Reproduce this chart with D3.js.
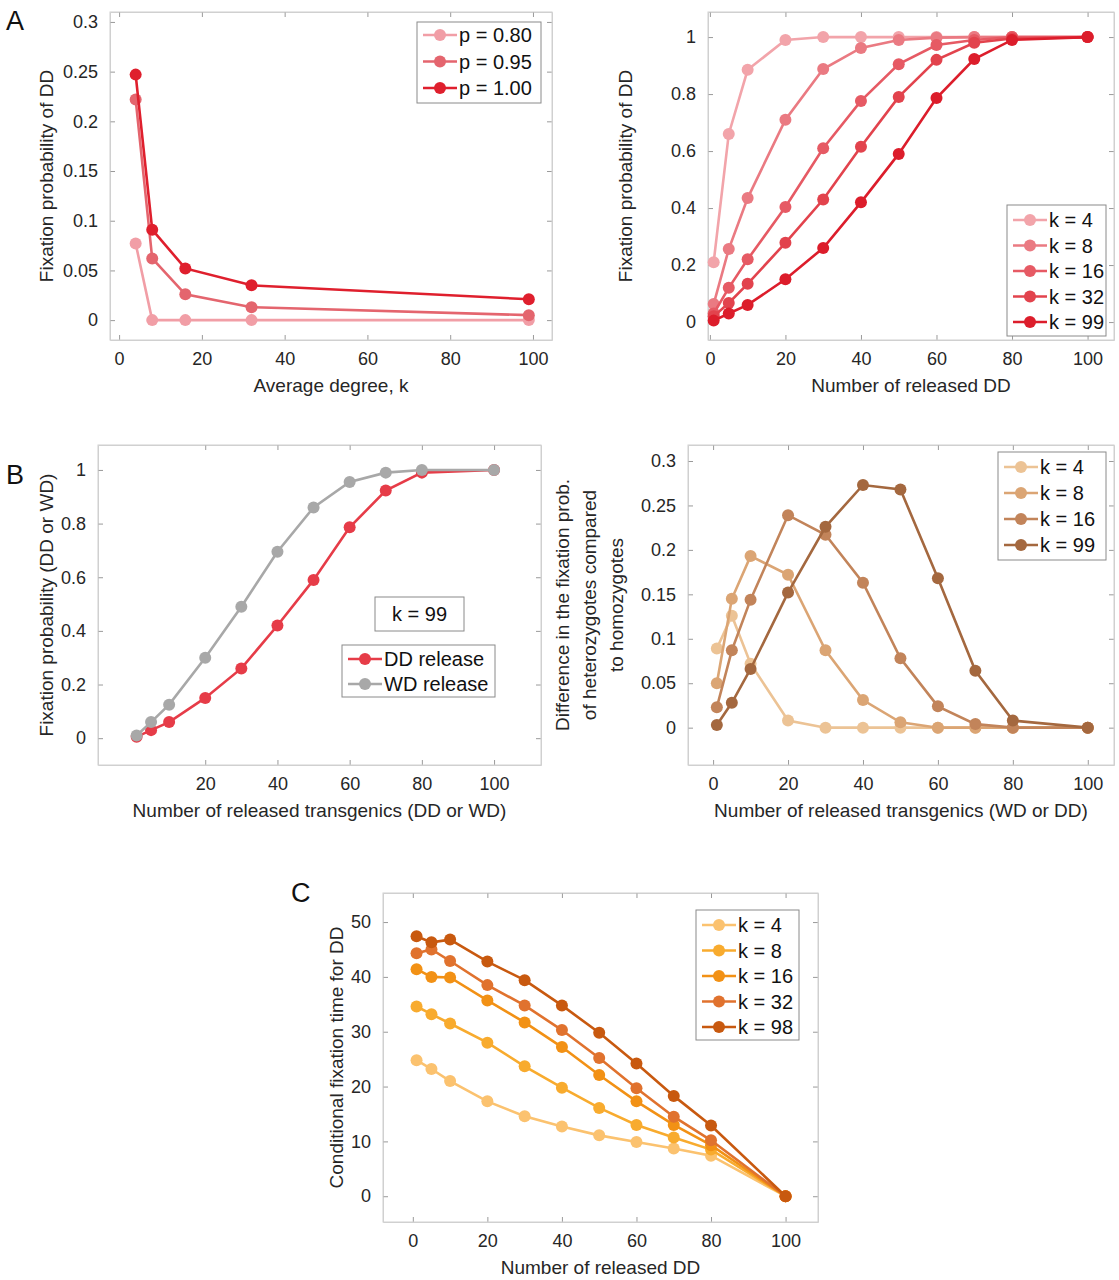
<!DOCTYPE html>
<html><head><meta charset="utf-8">
<script src="https://cdn.jsdelivr.net/npm/d3@7"></script>
<style>body{margin:0;background:#fff}text{font-family:"Helvetica Neue",Arial,"Liberation Sans",sans-serif}</style>
</head><body>
<svg id="c" width="1119" height="1280"></svg>
<script>
const degK=[4,8,16,32,99];
const pLabels=["p = 0.80","p = 0.95","p = 1.00"];
const pVals=[[0.077,0.0,0.0,0.0,0.0],[0.222,0.062,0.026,0.013,0.005],[0.247,0.091,0.052,0.035,0.021]];
const rel=[1,5,10,20,30,40,50,60,70,80,100];
const kA=["k = 4","k = 8","k = 16","k = 32","k = 99"];
const fixA=[[0.21,0.66,0.885,0.99,1,1,1,1,1,1,1],
 [0.063,0.256,0.435,0.71,0.888,0.962,0.99,0.998,1,1,1],
 [0.03,0.12,0.22,0.404,0.61,0.776,0.905,0.972,0.99,1,1],
 [0.02,0.067,0.134,0.278,0.43,0.615,0.79,0.92,0.98,0.995,1],
 [0.005,0.03,0.06,0.15,0.26,0.42,0.59,0.786,0.923,0.99,1]];
const relLabels=["DD release","WD release"];
const wdVals=[0.01,0.06,0.125,0.30,0.49,0.695,0.86,0.955,0.99,1.0,1.0];
const kB=["k = 4","k = 8","k = 16","k = 99"];
const diffB=[[0.089,0.126,0.072,0.008,0,0,0,0,0,0,0],
 [0.05,0.145,0.193,0.172,0.087,0.031,0.006,0,0,0,0],
 [0.023,0.087,0.144,0.239,0.217,0.163,0.078,0.024,0.004,0,0],
 [0.003,0.028,0.066,0.152,0.226,0.273,0.268,0.168,0.064,0.008,0]];
const kC=["k = 4","k = 8","k = 16","k = 32","k = 98"];
const timeC=[[24.8,23.2,21.0,17.3,14.6,12.7,11.1,9.9,8.7,7.4,0],
 [34.6,33.2,31.5,28.0,23.7,19.8,16.1,13.0,10.7,8.5,0],
 [41.4,40.0,39.9,35.7,31.7,27.2,22.1,17.3,13.0,9.3,0],
 [44.3,45.0,42.9,38.5,34.8,30.3,25.2,19.7,14.5,10.2,0],
 [47.4,46.3,46.8,42.8,39.4,34.8,29.8,24.2,18.3,12.9,0]];

const svg=d3.select("#c");
function panel(o){
  const x=d3.scaleLinear().domain(o.xd).range([o.l,o.r]);
  const y=d3.scaleLinear().domain(o.yd).range([o.b,o.t]);
  const g=svg.append("g");
  const tl=5;
  const ax=[[d3.axisBottom(x),`translate(0,${o.b})`,-tl],[d3.axisTop(x),`translate(0,${o.t})`,-tl]];
  g.append("g").attr("transform",`translate(0,${o.b})`).call(d3.axisBottom(x).tickValues(o.xt).tickSizeInner(-tl).tickSizeOuter(0).tickPadding(12).tickFormat(d3.format("d")));
  g.append("g").attr("transform",`translate(0,${o.t})`).call(d3.axisTop(x).tickValues(o.xt).tickSizeInner(-tl).tickSizeOuter(0).tickFormat(""));
  g.append("g").attr("transform",`translate(${o.l},0)`).call(d3.axisLeft(y).tickValues(o.yt).tickSizeInner(-tl).tickSizeOuter(0).tickPadding(12).tickFormat(o.yf));
  g.append("g").attr("transform",`translate(${o.r},0)`).call(d3.axisRight(y).tickValues(o.yt).tickSizeInner(-tl).tickSizeOuter(0).tickFormat(""));
  g.selectAll(".domain").attr("stroke","#d0d0d0");
  g.selectAll(".tick line").attr("stroke","#9a9a9a");
  g.selectAll(".tick text").attr("font-size",18).attr("fill","#262626").style("font-family","'Helvetica Neue',Arial,'Liberation Sans',sans-serif");
  g.append("rect").attr("x",o.l).attr("y",o.t).attr("width",o.r-o.l).attr("height",o.b-o.t).attr("fill","none").attr("stroke","#d0d0d0");
  const line=d3.line().x(d=>x(d[0])).y(d=>y(d[1]));
  o.series.forEach((s,i)=>{
    const pts=o.xs.map((v,j)=>[v,s[j]]);
    g.append("path").attr("d",line(pts)).attr("fill","none").attr("stroke",o.colors[i]).attr("stroke-width",2.6);
    g.selectAll(null).data(pts).enter().append("circle").attr("cx",d=>x(d[0])).attr("cy",d=>y(d[1])).attr("r",6).attr("fill",o.colors[i]);
  });
  // legend
  const L=o.leg;
  g.append("rect").attr("x",L.x).attr("y",L.y).attr("width",L.w).attr("height",L.h).attr("fill","#fff").attr("stroke","#8a8a8a");
  o.labels.forEach((lab,i)=>{
    const yy=L.y+L.r0+i*L.dy;
    g.append("line").attr("x1",L.x+6).attr("x2",L.x+40).attr("y1",yy).attr("y2",yy).attr("stroke",o.colors[i]).attr("stroke-width",2.6);
    g.append("circle").attr("cx",L.x+23).attr("cy",yy).attr("r",6).attr("fill",o.colors[i]);
    g.append("text").attr("x",L.x+42).attr("y",yy+7).attr("font-size",20).attr("fill","#111").text(lab);
  });
  // labels
  g.append("text").attr("x",(o.l+o.r)/2).attr("y",o.b+52).attr("text-anchor","middle").attr("font-size",19).attr("fill","#262626").text(o.xl);
  o.yl.forEach((t,i)=>{
    g.append("text").attr("transform",`translate(${o.ylx+i*27},${(o.t+o.b)/2}) rotate(-90)`).attr("text-anchor","middle").attr("font-size",19).attr("fill","#262626").text(t);
  });
  return {g,x,y};
}
const f2=d=>d===0?"0":d3.format("")(+d.toFixed(2));
panel({l:110,r:552,t:12,b:340,xd:[-2.2,104.6],yd:[-0.02,0.31],xt:[0,20,40,60,80,100],yt:[0,0.05,0.1,0.15,0.2,0.25,0.3],yf:f2,
  xs:degK,series:pVals,colors:["#f19ea6","#e4656e","#df1f2d"],labels:pLabels,
  leg:{x:417,y:22,w:124,h:81,r0:13,dy:26.5},xl:"Average degree, k",yl:["Fixation probability of DD"],ylx:53});
panel({l:708,r:1114,t:12,b:340,xd:[-0.5,107],yd:[-0.063,1.088],xt:[0,20,40,60,80,100],yt:[0,0.2,0.4,0.6,0.8,1],yf:f2,
  xs:rel,series:fixA,colors:["#f2a4aa","#ea7a82","#e65a64","#e2434d","#dc1d2b"],labels:kA,
  leg:{x:1007,y:205,w:99,h:131,r0:15,dy:25.5},xl:"Number of released DD",yl:["Fixation probability of DD"],ylx:632});
const pb=panel({l:98,r:541,t:445,b:765,xd:[-9.7,113],yd:[-0.1,1.093],xt:[20,40,60,80,100],yt:[0,0.2,0.4,0.6,0.8,1],yf:f2,
  xs:rel,series:[fixA[4],wdVals],colors:["#e63c48","#a8a8a8"],labels:relLabels,
  leg:{x:342,y:645,w:153,h:52,r0:14,dy:25},xl:"Number of released transgenics (DD or WD)",yl:["Fixation probability (DD or WD)"],ylx:53});
pb.g.append("rect").attr("x",375).attr("y",597).attr("width",89).attr("height",34).attr("fill","#fff").attr("stroke","#8a8a8a");
pb.g.append("text").attr("x",419.5).attr("y",621).attr("text-anchor","middle").attr("font-size",20).attr("fill","#111").text("k = 99");
panel({l:688,r:1114,t:445,b:765,xd:[-6.7,107],yd:[-0.042,0.318],xt:[0,20,40,60,80,100],yt:[0,0.05,0.1,0.15,0.2,0.25,0.3],yf:f2,
  xs:rel,series:diffB,colors:["#ecc395","#dba574","#c2845a","#a4683f"],labels:kB,
  leg:{x:998,y:452,w:108,h:108,r0:15,dy:26},xl:"Number of released transgenics (WD or DD)",
  yl:["Difference in the fixation prob.","of heterozygotes compared","to homozygotes"],ylx:569});
panel({l:383,r:818,t:893,b:1222,xd:[-8,108.7],yd:[-4.7,55.3],xt:[0,20,40,60,80,100],yt:[0,10,20,30,40,50],yf:d3.format("d"),
  xs:rel,series:timeC,colors:["#fbc26f","#f8ab2e","#f29115","#e0722e","#c8590f"],labels:kC,
  leg:{x:696,y:910,w:103,h:130,r0:15,dy:25.5},xl:"Number of released DD",yl:["Conditional fixation time for DD"],ylx:343});
[["A",6,30],["B",6,484],["C",291,902]].forEach(a=>svg.append("text").attr("x",a[1]).attr("y",a[2]).attr("font-size",27).attr("fill","#111").text(a[0]));
</script>
</body></html>
